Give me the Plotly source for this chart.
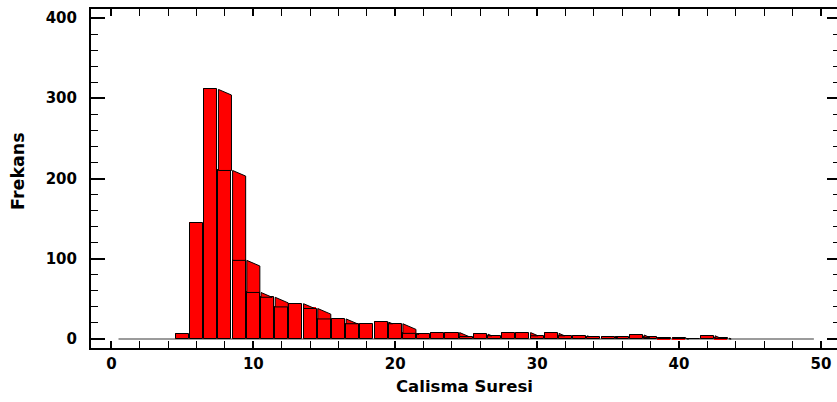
import plotly.graph_objects as go

# ---- data ----
bin_centers = list(range(5, 44))
frequencies = [6, 145, 311, 210, 98, 58, 52, 40, 44, 38,
               25, 25, 19, 19, 21, 19, 7, 6, 8, 8,
               3, 6, 4, 7, 8, 4, 7, 4, 4, 3,
               3, 2, 5, 2, 1, 1, 0, 4, 1]
x_tick_vals = [0, 10, 20, 30, 40, 50]
y_tick_vals = [0, 100, 200, 300, 400]
x_title = "Calisma Suresi"
y_title = "Frekans"
baseline_span = [0.5, 49.5]

# ---- style ----
RED = "#ff0000"
BAR_W = 0.92
DEPTH = 7.0          # slant of the side face, in y units
FONT = "DejaVu Sans"
Y_RANGE = [-11.2, 411.2]

fig = go.Figure()

# slight red mis-registration beneath the fronts (up-left)
fig.add_trace(go.Bar(
    x=[c - 0.07 for c in bin_centers],
    y=[h + 1.3 if h > 0 else 0 for h in frequencies],
    width=BAR_W, marker=dict(color=RED, line=dict(width=0)),
    hoverinfo="skip", showlegend=False))

# front faces
fig.add_trace(go.Bar(
    x=bin_centers, y=frequencies, width=BAR_W,
    marker=dict(color=RED, line=dict(color="black", width=1)),
    showlegend=False))

# side faces (visible parts, clipped at next bar height)
for i, (c, h) in enumerate(zip(bin_centers, frequencies)):
    if h <= 0:
        continue
    nxt = frequencies[i + 1] if i + 1 < len(frequencies) else 0
    if h <= nxt:
        continue
    L = c + 1 - BAR_W / 2
    R = c + 1 + BAR_W / 2
    top_r = h - DEPTH
    if top_r >= nxt:
        xs = [L, L, R, R, L]
        ys = [nxt, h, top_r, nxt, nxt]
    else:
        xi = L + (h - nxt) / DEPTH * (R - L)
        xs = [L, L, xi, L]
        ys = [nxt, h, nxt, nxt]
    fig.add_trace(go.Scatter(
        x=xs, y=ys, mode="lines", fill="toself", fillcolor=RED,
        line=dict(color="black", width=1), hoverinfo="skip",
        showlegend=False))

# empty trace so the right-hand tick axis is drawn
fig.add_trace(go.Scatter(x=[None], y=[None], yaxis="y2", mode="lines",
                         hoverinfo="skip", showlegend=False))

# grey baseline under the bars
fig.add_shape(type="line", xref="x", yref="y",
              x0=baseline_span[0], x1=baseline_span[1], y0=0, y1=0,
              line=dict(color="#7a7a7a", width=1.5), layer="below")

tickfont = dict(family=FONT, size=15, color="black", weight="bold")

fig.update_xaxes(
    range=[-1.438, 51.13], tickvals=x_tick_vals, ticks="inside",
    ticklen=7, tickwidth=1.5, tickcolor="black",
    showline=True, linecolor="black", linewidth=2, mirror="allticks",
    showgrid=False, zeroline=False, tickfont=tickfont,
    ticklabelstandoff=1,
    minor=dict(dtick=2, ticks="inside", ticklen=3.5, tickwidth=1.2,
               tickcolor="black", showgrid=False))

fig.update_layout(
    yaxis=dict(
        range=Y_RANGE, tickvals=y_tick_vals, ticks="inside",
        ticklen=14, tickwidth=1.5, tickcolor="black",
        showline=True, linecolor="black", linewidth=2, mirror=False,
        showgrid=False, zeroline=False, tickfont=tickfont,
        ticklabelstandoff=9,
        minor=dict(dtick=20, ticks="inside", ticklen=7, tickwidth=1.2,
                   tickcolor="black", showgrid=False)),
    # right side: ticks only (the frame line lies outside the picture)
    yaxis2=dict(
        overlaying="y", side="right", range=Y_RANGE, tickvals=y_tick_vals,
        ticks="inside", ticklen=10, tickwidth=1.5, tickcolor="black",
        showline=False, showgrid=False, zeroline=False,
        showticklabels=False,
        minor=dict(dtick=20, ticks="inside", ticklen=4, tickwidth=1.2,
                   tickcolor="black", showgrid=False)),
)

fig.add_annotation(text=x_title, xref="paper", yref="paper",
                   x=0.5, y=-0.114, xanchor="center", yanchor="middle",
                   showarrow=False,
                   font=dict(family=FONT, size=16.5, color="black", weight="bold"))
fig.add_annotation(text=y_title, xref="paper", yref="paper",
                   x=-0.098, y=0.522, xanchor="center", yanchor="middle",
                   textangle=-90, showarrow=False,
                   font=dict(family=FONT, size=17.5, color="black", weight="bold"))

fig.update_layout(
    width=837, height=402, barmode="overlay", bargap=0,
    margin=dict(l=91, r=0, t=9, b=54),
    paper_bgcolor="white", plot_bgcolor="white", showlegend=False)

fig.write_html("out.html")
